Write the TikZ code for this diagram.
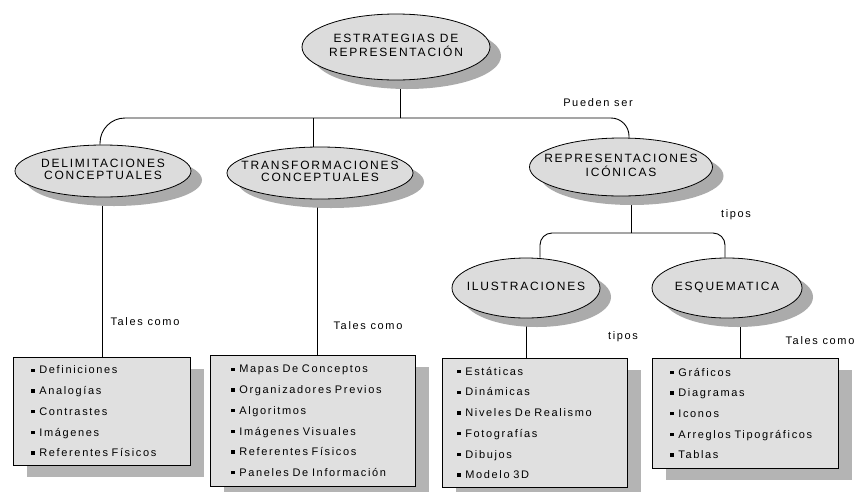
\documentclass[tikz,border=0pt]{standalone}
\usepackage{fontspec}
\setmainfont{Liberation Sans}[LetterSpace=15]
\usetikzlibrary{shapes.geometric,shadows,backgrounds}
\definecolor{ellfill}{HTML}{DCDCDC}
\definecolor{ellshadow}{HTML}{ABABAB}
\definecolor{boxfill}{HTML}{E0E0E0}
\definecolor{boxshadow}{HTML}{B4B4B4}
\newcommand\bul{\rule[2pt]{3.4pt}{3.4pt}\hspace{4.5pt}}
\newcommand\ellt[1]{\makebox[0pt]{\begin{tabular}{@{}c@{}}#1\end{tabular}}}
\begin{document}
\begin{tikzpicture}[x=1pt,y=-1pt,
  ell/.style={ellipse, draw, line width=0.8pt, fill=ellfill, inner sep=0pt,
    font=\fontsize{12}{12.5}\selectfont,
    general shadow={fill=ellshadow, shadow xshift=11pt, shadow yshift=-9pt}},
  lst/.style={rectangle, draw, line width=0.9pt, fill=boxfill, anchor=north west,
    inner ysep=0pt, align=left, font=\fontsize{11}{20.7}\selectfont,
    general shadow={fill=boxshadow, shadow xshift=14pt, shadow yshift=-12pt}},
  lbl/.style={font=\fontsize{11}{13}\selectfont, inner sep=1pt},
  conn/.style={line width=0.9pt}]
\useasboundingbox (0,0) rectangle (855,491);

% ellipses
\node[ell, minimum width=188pt, minimum height=66pt] (top) at (396,47) {\ellt{ESTRATEGIAS DE\\REPRESENTACIÓN}};
\node[ell, minimum width=176pt, minimum height=52pt] (delim) at (103,171) {\ellt{DELIMITACIONES\\CONCEPTUALES}};
\node[ell, minimum width=186pt, minimum height=52pt] (trans) at (320,173) {\ellt{TRANSFORMACIONES\\CONCEPTUALES}};
\node[ell, minimum width=183pt, minimum height=58pt] (rep) at (621,167) {\ellt{REPRESENTACIONES\\ICÓNICAS}};
\node[ell, minimum width=148pt, minimum height=60pt] (ilus) at (526,288) {\ellt{ILUSTRACIONES}};
\node[ell, minimum width=150pt, minimum height=60pt] (esq) at (727,288) {\ellt{ESQUEMATICA}};

% boxes
\node[lst, minimum width=177pt, minimum height=108pt, inner xsep=18pt, text width=141pt] (box1) at (13,357)
  {\bul Definiciones\\ \bul Analogías\\ \bul Contrastes\\ \bul Imágenes\\ \bul Referentes Físicos};
\node[lst, minimum width=205pt, minimum height=131pt, inner xsep=21pt, text width=163pt] (box2) at (210,355)
  {\bul Mapas De Conceptos\\ \bul Organizadores Previos\\ \bul Algoritmos\\ \bul Imágenes Visuales\\ \bul Referentes Físicos\\ \bul Paneles De Información};
\node[lst, minimum width=185pt, minimum height=129pt, inner xsep=15pt, text width=155pt] (box3) at (442,358)
  {\bul Estáticas\\ \bul Dinámicas\\ \bul Niveles De Realismo\\ \bul Fotografías\\ \bul Dibujos\\ \bul Modelo 3D};
\node[lst, minimum width=186pt, minimum height=110pt, inner xsep=18pt, text width=150pt] (box4) at (652,358)
  {\bul Gráficos\\ \bul Diagramas\\ \bul Iconos\\ \bul Arreglos Tipográficos\\ \bul Tablas};

% labels
\node[lbl] (l1) at (598,103) {Pueden ser};
\node[lbl] (l2) at (736,215) {tipos};
\node[lbl] (l3) at (145,322) {Tales como};
\node[lbl] (l4) at (368,326) {Tales como};
\node[lbl] (l5) at (623,337) {tipos};
\node[lbl] (l6) at (820,341) {Tales como};

% connectors
\coordinate (j1) at (400,118);
\coordinate (j2) at (631,233);
\begin{scope}[on background layer]
\fill[white] (0,0) rectangle (855,491);
\draw[conn] (top.south -| j1) -- (j1);
\draw[conn, rounded corners=25pt] (j1) -- ([xshift=-3pt]delim.north |- j1) -- ([xshift=-3pt]delim.north);
\draw[conn, rounded corners=18pt] (j1) -- ([xshift=8pt]rep.north |- j1) -- ([xshift=8pt]rep.north);
\draw[conn] ([xshift=-7pt]trans.north) -- ([xshift=-7pt]trans.north |- j1);
\draw[conn] (j2 |- rep.south) -- (j2);
\draw[conn, rounded corners=12pt] (j2) -- ([xshift=14pt]ilus.north |- j2) -- ([xshift=14pt]ilus.north);
\draw[conn, rounded corners=12pt] (j2) -- ([xshift=-2pt]esq.north |- j2) -- ([xshift=-2pt]esq.north);
\draw[conn] (delim.south -| box1.north) -- (box1.north);
\draw[conn] ([xshift=-3pt]trans.south) -- ([xshift=-3pt]trans.south |- box2.north);
\draw[conn] (ilus.south) -- (ilus.south |- box3.north);
\draw[conn] ([xshift=13pt]esq.south) -- ([xshift=13pt]esq.south |- box4.north);
\end{scope}
\end{tikzpicture}
\end{document}
